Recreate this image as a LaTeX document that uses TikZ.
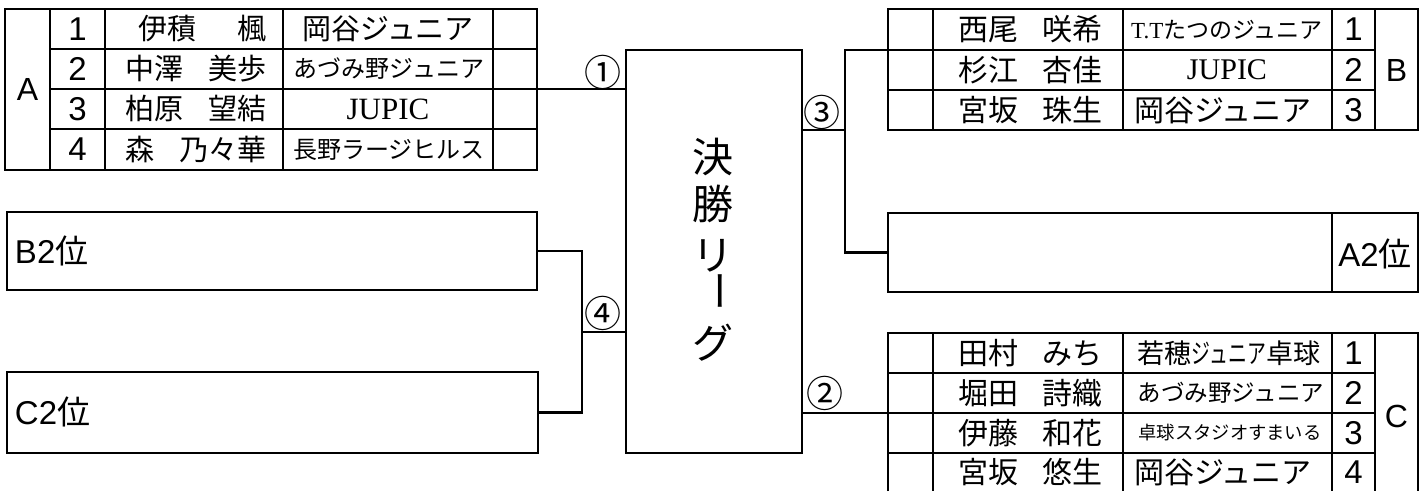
\documentclass[tikz,border=0pt]{standalone}
\usepackage{fontspec}
\setmainfont{Liberation Sans}
\newfontfamily\jp{Noto Sans CJK JP}
\newfontfamily\serifjp{Liberation Serif}
\newcommand{\fsz}[1]{\fontsize{#1}{#1}\selectfont}
\begin{document}
\begin{tikzpicture}[x=1pt,y=-1pt,line width=2.3pt,
  every node/.style={inner sep=0pt,outer sep=0pt},
  box/.style={draw,line width=2.3pt},
  num/.style={font=\fsz{33}},
  grp/.style={font=\fsz{32}},
  nameA/.style={anchor=west,font=\jp\fsz{29}},
  nameB/.style={anchor=west,font=\jp\fsz{30}},
  circ/.style={font=\jp\fsz{37}},
  lbl/.style={font=\fsz{33}}]
\useasboundingbox (0,0) rectangle (1428,491);

% ---------- Table A ----------
\draw (5,9) rectangle (537,170);
\foreach \x in {50,105,283,493} \draw (\x,9) -- (\x,170);
\foreach \y in {49,89,129} \draw (50,\y) -- (537,\y);
\node[grp] (gA) at (27.5,89.5) {A};
\node[num] (a1n) at (77.5,29) {1};
\node[num] (a2n) at (77.5,69) {2};
\node[num] (a3n) at (77.5,109) {3};
\node[num] (a4n) at (77.5,149.5) {4};
\node[nameA] (a1m) at (138,29) {\makebox[129pt]{伊積\hfill 楓}};
\node[nameA] (a2m) at (125,69) {\makebox[142pt]{中澤\hfill 美歩}};
\node[nameA] (a3m) at (125,109) {\makebox[142pt]{柏原\hfill 望結}};
\node[nameA] (a4m) at (125,149.5) {\makebox[142pt]{森\hfill 乃々華}};
\node[font=\jp\fsz{29}] (a1c) at (388,29) {岡谷ジュニア};
\node[font=\jp\fsz{24}] (a2c) at (389,69) {あづみ野ジュニア};
\node[font=\serifjp\fsz{31}] (a3c) at (388,109) {JUPIC};
\node[font=\jp\fsz{24}] (a4c) at (389,149.5) {長野ラージヒルス};
\coordinate (aout) at (537,89);

% ---------- B2 / C2 boxes ----------
\node[box,minimum width=530,minimum height=78] (b2) at (272,251) {};
\node[box,minimum width=531,minimum height=81] (c2) at (272.5,412.5) {};
\node[lbl,anchor=west] (b2t) at (15,251) {B2{\jp 位}};
\node[lbl,anchor=west] (c2t) at (15,412) {C2{\jp 位}};

% ---------- Final league ----------
\node[box,minimum width=176,minimum height=403] (final) at (714,251.5) {};
\node[font=\jp\fsz{41}] (t1) at (713,157) {決};
\node[font=\jp\fsz{41}] (t2) at (713,204) {勝};
\node[font=\jp\fsz{41}] (t3) at (713,256) {リ};
\node[font=\jp\fsz{41},rotate=-90] (t4) at (713,291) {ー};
\node[font=\jp\fsz{41}] (t5) at (713,343) {グ};

% ---------- Table B ----------
\draw (888,9) rectangle (1418,130);
\foreach \x in {933,1123,1332,1375} \draw (\x,9) -- (\x,130);
\foreach \y in {50,90} \draw (888,\y) -- (1375,\y);
\node[nameB] (b1m) at (958,29.5) {\makebox[144pt]{西尾\hfill 咲希}};
\node[nameB] (b2m) at (958,70) {\makebox[144pt]{杉江\hfill 杏佳}};
\node[nameB] (b3m) at (958,110) {\makebox[144pt]{宮坂\hfill 珠生}};
\node[font=\jp\fsz{23}] (b1c) at (1227,29.5) {{\serifjp T.T}たつのジュニア};
\node[font=\serifjp\fsz{30}] (b2c) at (1227,70) {JUPIC};
\node[font=\jp\fsz{30}] (b3c) at (1223,110) {岡谷ジュニア};
\node[num] (b1n) at (1353.5,29.5) {1};
\node[num] (b2n) at (1353.5,70) {2};
\node[num] (b3n) at (1353.5,110) {3};
\node[grp] (gB) at (1396.5,70) {B};
\coordinate (bin) at (888,50);

% ---------- A2 box ----------
\node[box,minimum width=530,minimum height=79] (a2) at (1153,252.5) {};
\draw (1332,213) -- (1332,292);
\node[lbl] (a2t) at (1375,254) {A2{\jp 位}};

% ---------- Table C ----------
\draw (888,491) -- (888,333) -- (1418,333) -- (1418,491);
\foreach \x in {933,1123,1332,1375} \draw (\x,333) -- (\x,491);
\foreach \y in {373,413,453} \draw (888,\y) -- (1375,\y);
\node[nameB] (c1m) at (958,353) {\makebox[144pt]{田村\hfill みち}};
\node[nameB] (c2m) at (958,393) {\makebox[144pt]{堀田\hfill 詩織}};
\node[nameB] (c3m) at (958,433) {\makebox[144pt]{伊藤\hfill 和花}};
\node[nameB] (c4m) at (958,472) {\makebox[144pt]{宮坂\hfill 悠生}};
\node[font=\jp\fsz{27}] (c1c) at (1229,353) {若穂\scalebox{0.7}[1]{ジュニア}卓球};
\node[font=\jp\fsz{23.5}] (c2c) at (1231,393) {あづみ野ジュニア};
\node[font=\jp\fsz{18.3}] (c3c) at (1230,433) {卓球スタジオすまいる};
\node[font=\jp\fsz{30}] (c4c) at (1223,472) {岡谷ジュニア};
\node[num] (c1n) at (1353.5,353) {1};
\node[num] (c2n) at (1353.5,393) {2};
\node[num] (c3n) at (1353.5,433) {3};
\node[num] (c4n) at (1353.5,472) {4};
\node[grp] (gC) at (1396.5,416) {C};
\coordinate (cin) at (888,413);

% ---------- connectors ----------
\draw (aout) -- (final.west |- aout);
\coordinate (j4) at (582,332);
\draw (b2.east) -| (j4) |- (c2.east);
\draw (j4) -- (final.west |- j4);
\coordinate (j3) at (845,130);
\draw (bin) -| (j3) |- (a2.west);
\draw (final.east |- j3) -- (j3);
\draw (final.east |- cin) -- (cin);

\node[circ] (m1) at (603,72) {①};
\node[circ] (m4) at (603,313) {④};
\node[circ] (m3) at (822,112) {③};
\node[circ] (m2) at (825,393) {②};
\end{tikzpicture}
\end{document}
